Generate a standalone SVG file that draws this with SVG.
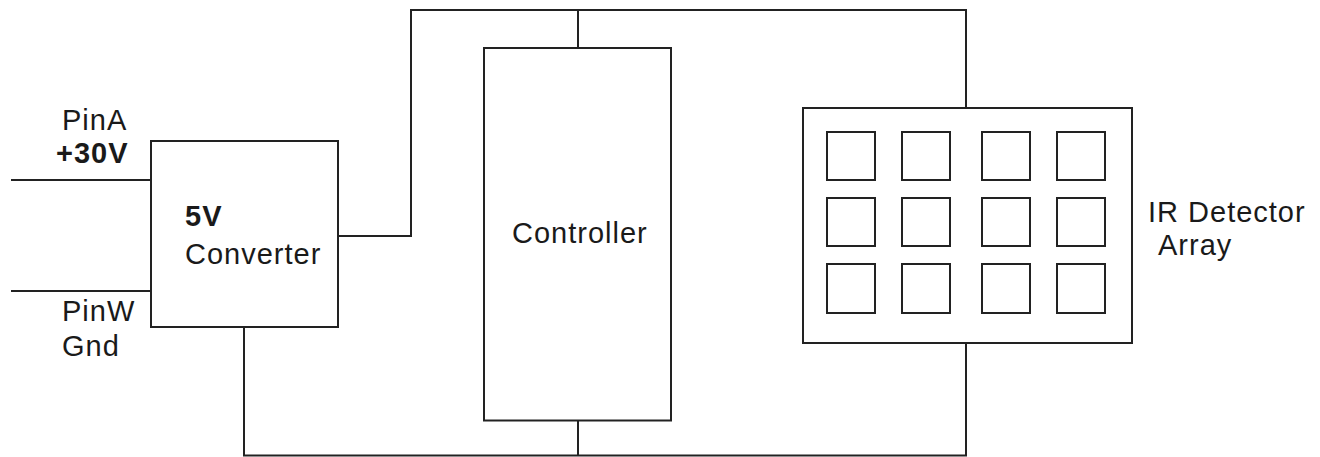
<svg xmlns="http://www.w3.org/2000/svg" width="1320" height="457" viewBox="0 0 1320 457">
<style>
.box{fill:#fff;stroke:#222;stroke-width:2}
.cell{fill:none;stroke:#222;stroke-width:2}
.wire{fill:none;stroke:#222;stroke-width:2}
.t{font-family:"Liberation Sans",Arial,sans-serif;font-size:29px;letter-spacing:1px;fill:#1a1a1a}
.b{font-weight:bold}
</style>
<rect width="1320" height="457" fill="#fff"/>
<g id="connectors">
<path class="wire" d="M11 180H151"/>
<path class="wire" d="M11 291H151"/>
<path class="wire" d="M338 236H411V10H966V108"/>
<path class="wire" d="M578 10V48"/>
<path class="wire" d="M244 327V455.5H966V343"/>
<path class="wire" d="M578 420.5V455.5"/>
</g>
<g id="pinA">
<text class="t" x="62" y="130">PinA</text>
<text class="t b" x="56" y="163">+30V</text>
</g>
<g id="pinW">
<text class="t" x="62" y="321">PinW</text>
<text class="t" x="62" y="356">Gnd</text>
</g>
<g id="converter">
<rect class="box" x="151" y="141" width="187" height="186"/>
<text class="t b" x="185" y="226">5V</text>
<text class="t" x="185" y="264">Converter</text>
</g>
<g id="controller">
<rect class="box" x="484" y="48" width="187" height="372.5"/>
<text class="t" x="512" y="243">Controller</text>
</g>
<g id="array">
<rect class="box" x="803" y="108" width="329" height="235"/>
<rect class="cell" x="827" y="132" width="48" height="48"/>
<rect class="cell" x="902" y="132" width="48" height="48"/>
<rect class="cell" x="982" y="132" width="48" height="48"/>
<rect class="cell" x="1057" y="132" width="48" height="48"/>
<rect class="cell" x="827" y="198" width="48" height="48"/>
<rect class="cell" x="902" y="198" width="48" height="48"/>
<rect class="cell" x="982" y="198" width="48" height="48"/>
<rect class="cell" x="1057" y="198" width="48" height="48"/>
<rect class="cell" x="827" y="264" width="48" height="49"/>
<rect class="cell" x="902" y="264" width="48" height="49"/>
<rect class="cell" x="982" y="264" width="48" height="49"/>
<rect class="cell" x="1057" y="264" width="48" height="49"/>
</g>
<g id="array-label">
<text class="t" x="1148" y="222">IR Detector</text>
<text class="t" x="1158" y="255">Array</text>
</g>
</svg>
